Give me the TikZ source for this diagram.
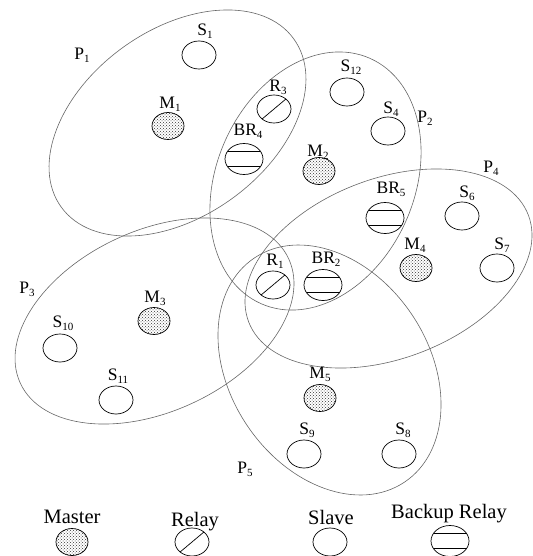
\documentclass[tikz,border=0pt]{standalone}
\usepackage{fontspec}
\setmainfont{Liberation Serif}
\usetikzlibrary{shapes.geometric,patterns}
\newcommand{\sbs}[1]{\raisebox{-0.35ex}{\fontsize{11}{11}\selectfont #1}}
\begin{document}
\begin{tikzpicture}[x=1pt,y=1pt,
  part/.style={draw=black!60, line width=0.6pt},
  dev/.style={ellipse, draw, line width=0.7pt, minimum width=34pt, minimum height=28pt, inner sep=0pt, outer sep=0pt},
  master/.style={dev, minimum width=32pt, minimum height=27pt, pattern=crosshatch dots, pattern color=black!80},
  backup/.style={dev, minimum width=38pt, minimum height=31pt},
  lab/.style={font=\fontsize{17.5}{18}\selectfont, inner sep=0pt},
  leg/.style={font=\fontsize{20.5}{21}\selectfont, inner sep=0pt}]
\useasboundingbox (0,0) rectangle (532,-556);
% partitions
\draw[part, rotate around={35.9:(177.5,-123)}] (177.5,-123) ellipse [x radius=143.5, y radius=93.2];
\draw[part, rotate around={66:(315.5,-181)}] (315.5,-181) ellipse [x radius=134.2, y radius=98.9];
\draw[part, rotate around={20.9:(388.5,-268.5)}] (388.5,-268.5) ellipse [x radius=149.7, y radius=89.9];
\draw[part, rotate around={24.9:(154.5,-321)}] (154.5,-321) ellipse [x radius=147.9, y radius=90.5];
\draw[part, rotate around={-56.2:(329.5,-370)}] (329.5,-370) ellipse [x radius=134.9, y radius=99.3];
% partition labels
\node[lab] (p1) at (82,-55) {P\sbs{1}};
\node[lab] (p2) at (425,-118) {P\sbs{2}};
\node[lab] (p3) at (27,-289) {P\sbs{3}};
\node[lab] (p4) at (491,-168) {P\sbs{4}};
\node[lab] (p5) at (245,-469) {P\sbs{5}};
% devices
\node[dev] (s1) at (199,-55) {};
\node[lab] (ls1) at (205,-31) {S\sbs{1}};
\node[master] (m1) at (168,-126) {};
\node[lab] (lm1) at (170,-104) {M\sbs{1}};
\node[dev] (r3) at (274,-109) {};
\draw[line width=0.7pt] (r3.220) -- (r3.40);
\node[lab] (lr3) at (278,-87) {R\sbs{3}};
\node[backup] (br4) at (244,-159) {};
\draw[line width=0.7pt] (br4.155) -- (br4.25) (br4.205) -- (br4.335);
\node[lab] (lbr4) at (248,-131) {BR\sbs{4}};
\node[dev] (s12) at (347,-92) {};
\node[lab] (ls12) at (351,-67) {S\sbs{12}};
\node[dev] (s4) at (388,-131) {};
\node[lab] (ls4) at (391,-109) {S\sbs{4}};
\node[master] (m2) at (319,-171) {};
\node[lab] (lm2) at (318,-152) {M\sbs{2}};
\node[backup] (br5) at (385,-218) {};
\draw[line width=0.7pt] (br5.155) -- (br5.25) (br5.205) -- (br5.335);
\node[lab] (lbr5) at (391,-189) {BR\sbs{5}};
\node[dev] (s6) at (462,-216) {};
\node[lab] (ls6) at (467,-193) {S\sbs{6}};
\node[dev] (s7) at (497,-268) {};
\node[lab] (ls7) at (502,-245) {S\sbs{7}};
\node[master] (m4) at (416,-268) {};
\node[lab] (lm4) at (415,-245) {M\sbs{4}};
\node[dev] (r1) at (273,-285) {};
\draw[line width=0.7pt] (r1.220) -- (r1.40);
\node[lab] (lr1) at (275,-261) {R\sbs{1}};
\node[backup] (br2) at (323,-285) {};
\draw[line width=0.7pt] (br2.155) -- (br2.25) (br2.205) -- (br2.335);
\node[lab] (lbr2) at (326,-259) {BR\sbs{2}};
\node[master] (m5) at (320,-398) {};
\node[lab] (lm5) at (320,-374) {M\sbs{5}};
\node[dev] (s9) at (304,-454) {};
\node[lab] (ls9) at (307,-430) {S\sbs{9}};
\node[dev] (s8) at (399,-454) {};
\node[lab] (ls8) at (403,-430) {S\sbs{8}};
\node[dev] (s10) at (60,-348) {};
\node[lab] (ls10) at (63,-323) {S\sbs{10}};
\node[dev] (s11) at (116,-400) {};
\node[lab] (ls11) at (118,-376) {S\sbs{11}};
\node[master] (m3) at (154,-321) {};
\node[lab] (lm3) at (155,-298) {M\sbs{3}};
% legend
\node[leg] (tmaster) at (72,-517) {Master};
\node[master] (gmaster) at (72,-542) {};
\node[leg] (trelay) at (195,-522) {Relay};
\node[dev] (grelay) at (192,-542) {};
\draw[line width=0.7pt] (grelay.220) -- (grelay.40);
\node[leg] (tslave) at (331,-517) {Slave};
\node[dev] (gslave) at (330,-542) {};
\node[leg] (tbackup) at (449,-514) {Backup Relay};
\node[backup] (gbackup) at (450,-541) {};
\draw[line width=0.7pt] (gbackup.155) -- (gbackup.25) (gbackup.205) -- (gbackup.335);
\end{tikzpicture}
\end{document}
